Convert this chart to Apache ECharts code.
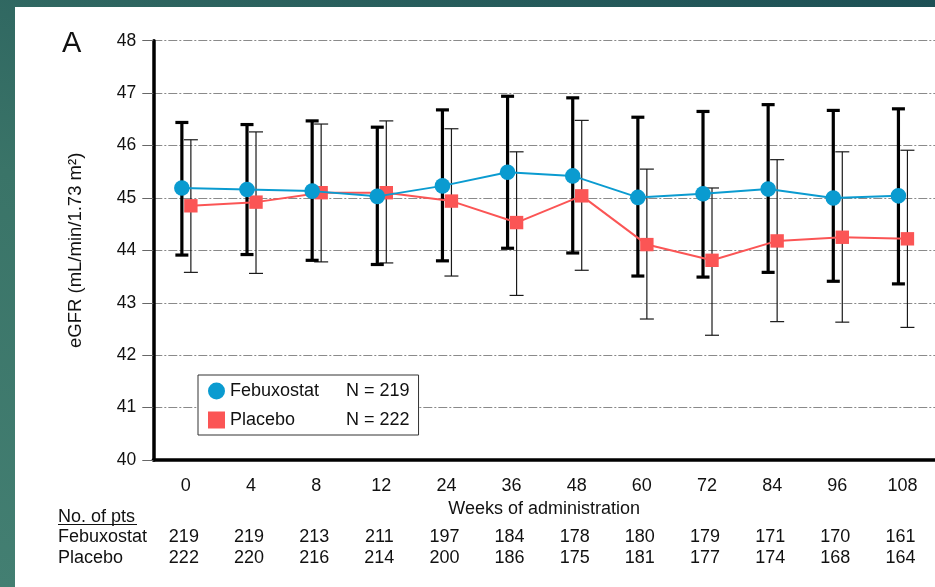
<!DOCTYPE html>
<html>
<head>
<meta charset="utf-8">
<script src="https://cdn.jsdelivr.net/npm/echarts@6/dist/echarts.min.js"></script>
<style>
  html, body { margin: 0; padding: 0; }
  #frame {
    position: relative; width: 935px; height: 587px; overflow: hidden;
    background: linear-gradient(20deg, #437f72 0%, #3a7468 45%, #1d5055 100%);
  }
  #sheet { position: absolute; left: 15px; top: 7px; right: 0; bottom: 0; background: #fff; }
  #chart { position: absolute; left: 0; top: 0; width: 935px; height: 587px; }
</style>
</head>
<body>
<div id="frame"><div id="sheet"></div><div id="chart"></div></div>
<script>
// Weeks of administration (category axis)
const weeks = ['0', '4', '8', '12', '24', '36', '48', '60', '72', '84', '96', '108'];

// eGFR means with lower / upper error-bar ends
const febMean = [45.19, 45.16, 45.13, 45.03, 45.23, 45.49, 45.42, 45.01, 45.08, 45.17, 45.00, 45.04];
const febHigh = [46.44, 46.40, 46.47, 46.35, 46.68, 46.94, 46.91, 46.54, 46.65, 46.78, 46.67, 46.70];
const febLow  = [43.91, 43.92, 43.81, 43.73, 43.80, 44.04, 43.95, 43.51, 43.49, 43.58, 43.41, 43.36];

const plaMean = [44.85, 44.92, 45.10, 45.10, 44.94, 44.53, 45.04, 44.11, 43.81, 44.18, 44.25, 44.22];
const plaHigh = [46.11, 46.26, 46.41, 46.47, 46.32, 45.88, 46.48, 45.55, 45.19, 45.73, 45.88, 45.91];
const plaLow  = [43.58, 43.56, 43.78, 43.76, 43.51, 43.14, 43.62, 42.69, 42.38, 42.64, 42.63, 42.53];

// Number of patients per visit
const febN = [219, 219, 213, 211, 197, 184, 178, 180, 179, 171, 170, 161];
const plaN = [222, 220, 216, 214, 200, 186, 175, 181, 177, 174, 168, 164];

const groupN = { Febuxostat: 219, Placebo: 222 };

const FONT = '"Liberation Sans", Arial, sans-serif';
const BLUE = '#0a9bd0';
const RED = '#fb5555';
const FEB_SHIFT = -4;
const PLA_SHIFT = 5;

function errorBar(api, i, lo, hi, shift, width, capHalf, color) {
  const a = api.coord([i, lo]);
  const b = api.coord([i, hi]);
  const x = a[0] + shift;
  const st = { stroke: color, lineWidth: width };
  return [
    { type: 'line', shape: { x1: x, y1: a[1], x2: x, y2: b[1] }, style: st },
    { type: 'line', shape: { x1: x - capHalf, y1: b[1], x2: x + capHalf, y2: b[1] }, style: st },
    { type: 'line', shape: { x1: x - capHalf, y1: a[1], x2: x + capHalf, y2: a[1] }, style: st }
  ];
}

function meanSeries(name, means, shift, color, symbol, z) {
  return {
    name: name,
    type: 'custom',
    z: z,
    itemStyle: { color: color },
    data: means.map((v, i) => [i, v]),
    renderItem: function (params, api) {
      const i = api.value(0);
      const p = api.coord([i, api.value(1)]);
      const x = p[0] + shift, y = p[1];
      const children = [];
      if (i > 0) {
        const q = api.coord([i - 1, means[i - 1]]);
        children.push({
          type: 'line', z2: 1,
          shape: { x1: q[0] + shift, y1: q[1], x2: x, y2: y },
          style: { stroke: color, lineWidth: 2 }
        });
      }
      if (symbol === 'circle') {
        children.push({ type: 'circle', z2: 10, shape: { cx: x, cy: y, r: 7.8 }, style: { fill: color } });
      } else {
        children.push({ type: 'rect', z2: 10, shape: { x: x - 6.7, y: y - 6.7, width: 13.4, height: 13.4 }, style: { fill: color } });
      }
      return { type: 'group', children: children };
    }
  };
}

const chart = echarts.init(document.getElementById('chart'), null, { renderer: 'canvas' });

chart.setOption({
  backgroundColor: 'transparent',
  animation: false,
  title: {
    text: 'A', left: 57, top: 24,
    textStyle: { fontFamily: FONT, fontSize: 29, fontWeight: 'normal', color: '#111' }
  },
  grid: { left: 153.3, right: -3.5, top: 40.7, bottom: 127, containLabel: false },
  legend: {
    orient: 'vertical',
    left: 198, top: 375,
    padding: [7, 9, 6, 10],
    borderColor: '#333', borderWidth: 1,
    backgroundColor: '#fff',
    itemWidth: 17, itemHeight: 17, itemGap: 11,
    selectedMode: false,
    data: [{ name: 'Febuxostat', icon: 'circle' }, { name: 'Placebo', icon: 'rect' }],
    formatter: name => '{a|' + name + '}{b|N = ' + groupN[name] + '}',
    textStyle: {
      fontFamily: FONT, fontSize: 18, color: '#111',
      rich: { a: { width: 116, fontFamily: FONT, fontSize: 18, color: '#111' }, b: { fontFamily: FONT, fontSize: 18, color: '#111' } }
    }
  },
  xAxis: {
    type: 'category',
    data: weeks,
    boundaryGap: true,
    name: 'Weeks of administration',
    nameLocation: 'middle',
    nameGap: 33,
    nameTextStyle: { fontFamily: FONT, fontSize: 18, color: '#111' },
    axisLine: { lineStyle: { color: '#000', width: 3.5 } },
    axisTick: { alignWithLabel: true, length: 9, lineStyle: { color: '#666', width: 1 } },
    axisLabel: { margin: 17, fontFamily: FONT, fontSize: 18, color: '#111' },
    splitLine: { show: false }
  },
  yAxis: {
    type: 'value',
    min: 40, max: 48, interval: 1,
    name: 'eGFR (mL/min/1.73 m²)',
    nameLocation: 'middle',
    nameGap: 68,
    nameTextStyle: { fontFamily: FONT, fontSize: 18.5, color: '#111' },
    axisLine: { show: true, lineStyle: { color: '#000', width: 3.5 } },
    axisTick: { show: true, length: 11, lineStyle: { color: '#666', width: 1 } },
    axisLabel: { margin: 17, fontFamily: FONT, fontSize: 17.5, color: '#111' },
    splitLine: { show: true, lineStyle: { color: '#8a8a8a', width: 1, type: [9, 2, 2, 2] } }
  },
  series: [
    {
      name: 'errorbars',
      type: 'custom',
      z: 1,
      silent: true,
      data: weeks.map((w, i) => [i]),
      renderItem: function (params, api) {
        const i = api.value(0);
        return {
          type: 'group',
          children: [].concat(
            errorBar(api, i, plaLow[i], plaHigh[i], PLA_SHIFT, 1.2, 7, '#1a1a1a'),
            errorBar(api, i, febLow[i], febHigh[i], FEB_SHIFT, 3.2, 6.5, '#000')
          )
        };
      }
    },
    meanSeries('Placebo', plaMean, PLA_SHIFT, RED, 'rect', 2),
    meanSeries('Febuxostat', febMean, FEB_SHIFT, BLUE, 'circle', 3),
    {
      name: 'counts',
      type: 'custom',
      z: 1,
      silent: true,
      clip: false,
      data: weeks.map((w, i) => [i]),
      renderItem: function (params, api) {
        const i = api.value(0);
        const x = api.coord([i, 40])[0] - 2;
        const st = { fontFamily: FONT, fontSize: 18, fill: '#111', align: 'center', verticalAlign: 'middle' };
        return {
          type: 'group',
          children: [
            { type: 'text', style: Object.assign({ text: String(febN[i]), x: x, y: 537 }, st) },
            { type: 'text', style: Object.assign({ text: String(plaN[i]), x: x, y: 558 }, st) }
          ]
        };
      }
    }
  ],
  graphic: [
    { type: 'text', left: 58, top: 508, style: { text: 'No. of pts', fontFamily: FONT, fontSize: 18, fill: '#111' } },
    { type: 'line', shape: { x1: 58, y1: 524.5, x2: 137, y2: 524.5 }, style: { stroke: '#111', lineWidth: 1 } },
    { type: 'text', left: 58, top: 528, style: { text: 'Febuxostat', fontFamily: FONT, fontSize: 18, fill: '#111' } },
    { type: 'text', left: 58, top: 549, style: { text: 'Placebo', fontFamily: FONT, fontSize: 18, fill: '#111' } }
  ]
});
</script>
</body>
</html>
